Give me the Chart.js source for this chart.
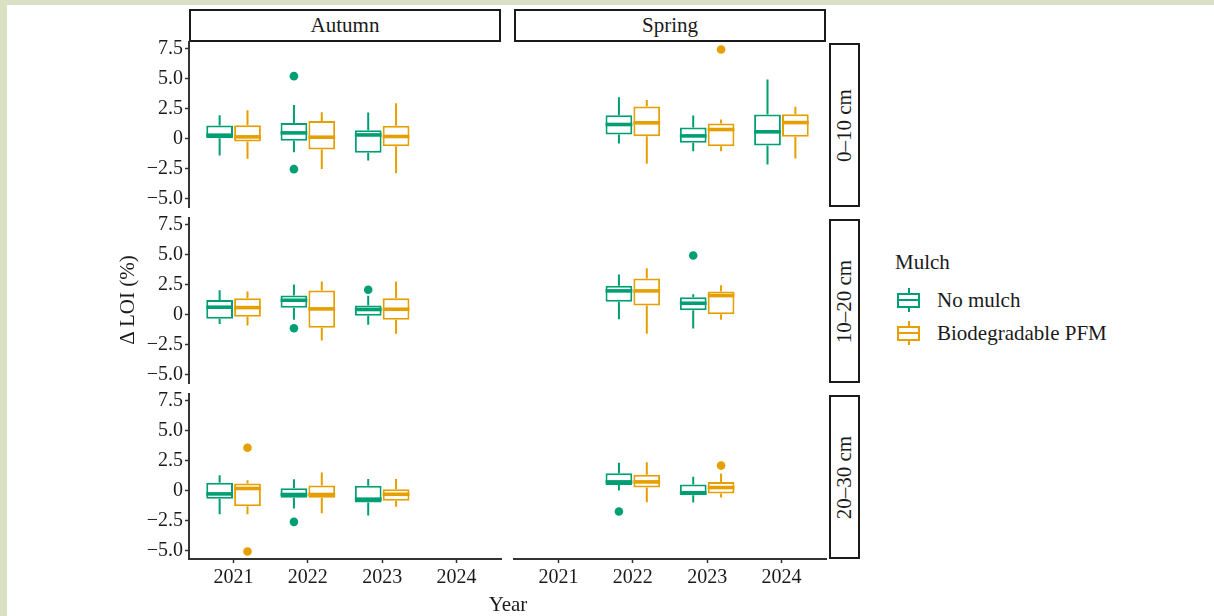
<!DOCTYPE html>
<html>
<head>
<meta charset="utf-8">
<script src="https://cdn.jsdelivr.net/npm/chart.js@4.4.1/dist/chart.umd.min.js"></script>
<style>
  body { margin: 0; width: 1214px; height: 616px; background: #dae0c3; position: relative; overflow: hidden;
         font-family: "Liberation Serif", "DejaVu Serif", serif; color: #1a1a1a; }
  #page { position: absolute; left: 7px; top: 5px; width: 1207px; height: 611px; background: #fff; }
  canvas { position: absolute; }
  .strip { position: absolute; box-sizing: border-box; border: 2px solid #1a1a1a; background: #fff;
           display: flex; align-items: center; justify-content: center; font-size: 21px; }
  .strip span { white-space: nowrap; }
  .vert span { transform: rotate(-90deg); }
  .txt { position: absolute; font-size: 21px; line-height: 24px; white-space: nowrap; }
  .key { position: absolute; width: 23px; height: 24px; }
  .key .wh { position: absolute; left: 10.5px; top: 0; width: 2px; height: 24px; }
  .key .bx { position: absolute; left: 0; top: 4.5px; width: 23px; height: 15px; box-sizing: border-box;
             background: #fff; border: 2px solid; }
  .key .md { position: absolute; left: 0; top: 4.5px; width: 100%; height: 2px; }
</style>
</head>
<body>
<div id="page"></div>

<script>
// Categories
const years = [2021, 2022, 2023, 2024];
const seasons = ["Autumn", "Spring"];
const depths = ["0–10 cm", "10–20 cm", "20–30 cm"];
const mulches = ["No mulch", "Biodegradable PFM"];
const mulchColors = ["#009E73", "#E69F00"];

// Tick labels
const yTicks = [-5, -2.5, 0, 2.5, 5, 7.5];
const yTickLabels = ["−5.0", "−2.5", "0", "2.5", "5.0", "7.5"];

// Box stats: [year, lower whisker, Q1, median, Q3, upper whisker]
const autumn010NoMulch = [[2021, -1.42, 0.03, 0.28, 1.08, 1.94], [2022, -1.14, -0.19, 0.47, 1.30, 2.80], [2023, -1.83, -1.19, 0.30, 0.70, 2.17]];
const autumn010Pfm     = [[2021, -1.69, -0.25, 0.14, 1.10, 2.36], [2022, -2.53, -0.92, 0.11, 1.47, 2.20], [2023, -2.89, -0.64, 0.17, 1.06, 2.94]];
const spring010NoMulch = [[2022, -0.42, 0.33, 1.17, 1.94, 3.44], [2023, -1.06, -0.36, 0.22, 0.92, 1.92], [2024, -2.17, -0.58, 0.56, 2.00, 4.92]];
const spring010Pfm     = [[2022, -2.11, 0.19, 1.31, 2.67, 3.22], [2023, -1.06, -0.64, 0.75, 1.25, 1.58], [2024, -1.67, 0.14, 1.33, 2.03, 2.64]];
const autumn1020NoMulch = [[2021, -0.78, -0.36, 0.61, 1.22, 2.03], [2022, -0.44, 0.56, 1.19, 1.58, 2.50], [2023, -0.86, -0.11, 0.42, 0.75, 1.56]];
const autumn1020Pfm     = [[2021, -0.92, -0.19, 0.58, 1.36, 1.92], [2022, -2.17, -1.11, 0.47, 2.00, 2.75], [2023, -1.61, -0.44, 0.44, 1.36, 2.75]];
const spring1020NoMulch = [[2022, -0.39, 1.06, 1.97, 2.39, 3.33], [2023, -1.17, 0.36, 0.94, 1.44, 1.69]];
const spring1020Pfm     = [[2022, -1.61, 0.75, 1.97, 3.00, 3.86], [2023, -0.44, 0.03, 1.58, 1.92, 2.44]];
const autumn2030NoMulch = [[2021, -1.97, -0.69, -0.28, 0.64, 1.28], [2022, -1.50, -0.61, -0.33, 0.19, 0.94], [2023, -2.08, -1.00, -0.72, 0.39, 0.97]];
const autumn2030Pfm     = [[2021, -1.97, -1.31, 0.17, 0.58, 0.86], [2022, -1.89, -0.61, -0.33, 0.42, 1.50], [2023, -1.36, -0.86, -0.31, 0.11, 0.97]];
const spring2030NoMulch = [[2022, 0.00, 0.47, 0.72, 1.44, 2.31], [2023, -1.00, -0.39, -0.19, 0.50, 1.14]];
const spring2030Pfm     = [[2022, -0.97, 0.25, 0.72, 1.31, 2.36], [2023, -0.58, -0.25, 0.25, 0.72, 1.42]];

// Outliers: [year, value]
const autumn010NoMulchOut = [[2022, 5.20], [2022, -2.55]];
const autumn010PfmOut = [];
const spring010NoMulchOut = [];
const spring010PfmOut = [[2023, 7.42]];
const autumn1020NoMulchOut = [[2022, -1.14], [2023, 2.06]];
const autumn1020PfmOut = [];
const spring1020NoMulchOut = [[2023, 4.92]];
const spring1020PfmOut = [];
const autumn2030NoMulchOut = [[2022, -2.61]];
const autumn2030PfmOut = [[2021, 3.56], [2021, -5.08]];
const spring2030NoMulchOut = [[2022, -1.75]];
const spring2030PfmOut = [[2023, 2.08]];

// [column, row, no mulch, pfm, no mulch outliers, pfm outliers]
const panels = [
  [0, 0, autumn010NoMulch, autumn010Pfm, autumn010NoMulchOut, autumn010PfmOut],
  [1, 0, spring010NoMulch, spring010Pfm, spring010NoMulchOut, spring010PfmOut],
  [0, 1, autumn1020NoMulch, autumn1020Pfm, autumn1020NoMulchOut, autumn1020PfmOut],
  [1, 1, spring1020NoMulch, spring1020Pfm, spring1020NoMulchOut, spring1020PfmOut],
  [0, 2, autumn2030NoMulch, autumn2030Pfm, autumn2030NoMulchOut, autumn2030PfmOut],
  [1, 2, spring2030NoMulch, spring2030Pfm, spring2030NoMulchOut, spring2030PfmOut]
];

// Shared y range (ggplot style 5% expansion)
const allVals = [];
panels.forEach(p => {
  [p[2], p[3]].forEach(s => s.forEach(r => allVals.push(r[1], r[5])));
  [p[4], p[5]].forEach(o => o.forEach(r => allVals.push(r[1])));
});
const vMin = Math.min(...allVals), vMax = Math.max(...allVals);
const yMin = vMin - 0.05 * (vMax - vMin), yMax = vMax + 0.05 * (vMax - vMin);

// Layout
const colLeft = [189, 514];
const rowTop = [42, 218, 394];
const panelW = 312, panelH = 165;
const FONT = "'Liberation Serif', 'DejaVu Serif', serif";
const ink = "#1a1a1a", axisCol = "#333333";

// draws whiskers, medians and outliers on top of floating bars
const boxPlot = {
  id: "boxPlot",
  afterDatasetsDraw(chart) {
    const ctx = chart.ctx;
    const y = chart.scales.y;
    chart.data.datasets.forEach((ds, d) => {
      const meta = chart.getDatasetMeta(d);
      ctx.save();
      ctx.strokeStyle = ds.borderColor;
      ctx.fillStyle = ds.borderColor;
      meta.data.forEach((bar, i) => {
        const s = ds.data[i];
        ctx.lineWidth = 2;
        ctx.beginPath();
        ctx.moveTo(bar.x, y.getPixelForValue(s.y[1]));
        ctx.lineTo(bar.x, y.getPixelForValue(s.hi));
        ctx.moveTo(bar.x, y.getPixelForValue(s.y[0]));
        ctx.lineTo(bar.x, y.getPixelForValue(s.lo));
        ctx.stroke();
        const ym = y.getPixelForValue(s.med);
        ctx.lineWidth = 3.6;
        ctx.beginPath();
        ctx.moveTo(bar.x - bar.width / 2, ym);
        ctx.lineTo(bar.x + bar.width / 2, ym);
        ctx.stroke();
      });
      ds.outliers.forEach(o => {
        const bar = meta.data[ds.data.findIndex(p => p.x === o[0])];
        ctx.beginPath();
        ctx.arc(bar.x, y.getPixelForValue(o[1]), 4.3, 0, Math.PI * 2);
        ctx.fill();
      });
      ctx.restore();
    });
  }
};

function makePanel(col, row, noMulch, pfm, noMulchOut, pfmOut) {
  const showY = col === 0, showX = row === 2;
  const pad = 10, yW = showY ? 50 : 0, xH = showX ? 40 : 0;
  const cv = document.createElement("canvas");
  cv.width = panelW + yW + 2 * pad;
  cv.height = panelH + 2 * pad + xH;
  cv.style.left = (colLeft[col] - yW - pad) + "px";
  cv.style.top = (rowTop[row] - pad) + "px";
  document.body.appendChild(cv);

  const series = [noMulch, pfm];
  const outs = [noMulchOut, pfmOut];
  const tickFont = { family: FONT, size: 20 };

  new Chart(cv.getContext("2d"), {
    type: "bar",
    data: {
      datasets: series.map((s, k) => ({
        label: mulches[k],
        data: s.map(r => ({ x: r[0], y: [r[2], r[4]], lo: r[1], med: r[3], hi: r[5] })),
        outliers: outs[k],
        backgroundColor: "#ffffff",
        borderColor: mulchColors[k],
        borderWidth: 2,
        borderSkipped: false,
        categoryPercentage: 0.75,
        barPercentage: 0.96
      }))
    },
    options: {
      responsive: false,
      animation: false,
      layout: { padding: pad },
      plugins: { legend: { display: false }, tooltip: { enabled: false } },
      scales: {
        x: {
          type: "linear",
          min: years[0] - 0.6,
          max: years[years.length - 1] + 0.6,
          offset: false,
          display: showX,
          afterBuildTicks: s => { s.ticks = years.map(v => ({ value: v })); },
          afterFit: s => { s.height = xH; s.paddingLeft = 0; s.paddingRight = 0; },
          grid: { display: true, offset: false, drawOnChartArea: false, drawTicks: true, tickLength: 4, tickColor: axisCol, tickWidth: 1.5 },
          border: { display: true, color: axisCol, width: 2 },
          ticks: { callback: v => String(v), padding: 3, color: ink, font: tickFont, maxRotation: 0, autoSkip: false }
        },
        y: {
          min: yMin,
          max: yMax,
          display: showY,
          afterBuildTicks: s => { s.ticks = yTicks.map(v => ({ value: v })); },
          afterFit: s => { s.width = yW; s.paddingTop = 0; s.paddingBottom = 0; },
          grid: { display: true, offset: false, drawOnChartArea: false, drawTicks: true, tickLength: 4, tickColor: axisCol, tickWidth: 1.5 },
          border: { display: true, color: axisCol, width: 2 },
          ticks: { callback: v => yTickLabels[yTicks.indexOf(v)], padding: 2, color: ink, font: tickFont }
        }
      }
    },
    plugins: [boxPlot]
  });
}

function addDiv(cls, text, css) {
  const el = document.createElement("div");
  el.className = cls;
  el.innerHTML = text ? "<span>" + text + "</span>" : "";
  Object.assign(el.style, css);
  document.body.appendChild(el);
  return el;
}

// Facet strips
seasons.forEach((s, c) => addDiv("strip", s, { left: colLeft[c] + "px", top: "9px", width: panelW + "px", height: "33px" }));
depths.forEach((d, r) => addDiv("strip vert", d, { left: "829px", top: (rowTop[r] + 1) + "px", width: "31px", height: (panelH - 1) + "px" }));

panels.forEach(p => makePanel(...p));

// Axis titles
addDiv("txt", "Δ LOI (%)", { left: "27px", top: "288px", width: "200px", textAlign: "center", transform: "rotate(-90deg)" });
addDiv("txt", "Year", { left: "408px", top: "592px", width: "200px", textAlign: "center" });

// Legend
addDiv("txt", "Mulch", { left: "895px", top: "250px" });
mulches.forEach((m, k) => {
  const yc = 300 + k * 33;
  const key = addDiv("key", "", { left: "897px", top: (yc - 12) + "px" });
  key.innerHTML = '<div class="wh"></div><div class="bx"><div class="md"></div></div>';
  key.querySelector(".wh").style.background = mulchColors[k];
  key.querySelector(".bx").style.borderColor = mulchColors[k];
  key.querySelector(".md").style.background = mulchColors[k];
  addDiv("txt", m, { left: "937px", top: (yc - 12) + "px" });
});
</script>
</body>
</html>
